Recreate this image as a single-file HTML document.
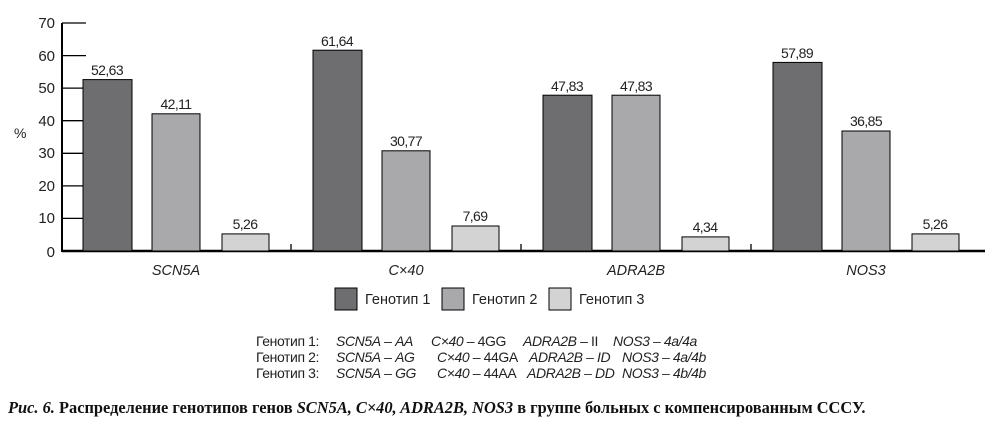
<!DOCTYPE html><html><head><meta charset="utf-8"><style>body{margin:0;background:#fff}svg{display:block}</style></head><body>
<svg width="992" height="438" xmlns="http://www.w3.org/2000/svg" font-family="Liberation Sans, sans-serif" font-size="14">
<g stroke="#000" stroke-width="1.3">
<line x1="62" y1="23" x2="62" y2="252" stroke-width="2"/>
<line x1="62" y1="251" x2="985" y2="251" stroke-width="2.5"/>
<line x1="62" y1="23" x2="86" y2="23"/><line x1="62" y1="55.6" x2="86" y2="55.6"/><line x1="62" y1="88.1" x2="86" y2="88.1"/><line x1="62" y1="120.7" x2="86" y2="120.7"/><line x1="62" y1="153.3" x2="86" y2="153.3"/><line x1="62" y1="185.9" x2="86" y2="185.9"/><line x1="62" y1="218.4" x2="86" y2="218.4"/>
<line x1="291" y1="244" x2="291" y2="251"/><line x1="521" y1="244" x2="521" y2="251"/><line x1="751" y1="244" x2="751" y2="251"/>
</g>
<g text-anchor="end" fill="#222" font-size="15">
<text x="55" y="28">70</text><text x="55" y="61">60</text><text x="55" y="93">50</text><text x="55" y="126">40</text><text x="55" y="158">30</text><text x="55" y="191">20</text><text x="55" y="223">10</text><text x="55" y="257">0</text></g>
<text x="14" y="138" fill="#222">%</text>
<g stroke="#000" stroke-width="1">
<rect x="83" y="79.6" width="49" height="171.4" fill="#6e6e70"/>
<rect x="152" y="113.8" width="48" height="137.2" fill="#a9a9ab"/>
<rect x="222" y="233.9" width="47" height="17.1" fill="#d3d3d3"/>
<rect x="313" y="50.2" width="49" height="200.8" fill="#6e6e70"/>
<rect x="382" y="150.8" width="48" height="100.2" fill="#a9a9ab"/>
<rect x="452" y="226" width="47" height="25" fill="#d3d3d3"/>
<rect x="543" y="95.2" width="49" height="155.8" fill="#6e6e70"/>
<rect x="612" y="95.2" width="48" height="155.8" fill="#a9a9ab"/>
<rect x="682" y="236.9" width="47" height="14.1" fill="#d3d3d3"/>
<rect x="773" y="62.4" width="49" height="188.6" fill="#6e6e70"/>
<rect x="842" y="131" width="48" height="120" fill="#a9a9ab"/>
<rect x="912" y="233.9" width="47" height="17.1" fill="#d3d3d3"/>
</g>
<g text-anchor="middle" fill="#222" font-size="14" letter-spacing="-0.6">
<text x="107" y="75">52,63</text><text x="176" y="109">42,11</text><text x="245" y="229">5,26</text>
<text x="337" y="46">61,64</text><text x="406" y="146">30,77</text><text x="475" y="221">7,69</text>
<text x="567" y="91">47,83</text><text x="636" y="91">47,83</text><text x="705" y="232">4,34</text>
<text x="797" y="58">57,89</text><text x="866" y="126">36,85</text><text x="935" y="229">5,26</text>
</g>
<g text-anchor="middle" font-style="italic" fill="#222" font-size="14.5">
<text x="176" y="275">SCN5A</text><text x="406" y="275">C×40</text><text x="636" y="275">ADRA2B</text><text x="866" y="275">NOS3</text></g>
<g stroke="#000" stroke-width="1">
<rect x="335" y="288" width="22" height="22" fill="#6e6e70"/>
<rect x="442" y="288" width="22" height="22" fill="#a9a9ab"/>
<rect x="549" y="288" width="22" height="22" fill="#d3d3d3"/></g>
<g fill="#222" font-size="14.5"><text x="365" y="304">Генотип 1</text><text x="472" y="304">Генотип 2</text><text x="579" y="304">Генотип 3</text></g>
<g fill="#222" font-size="14" letter-spacing="-0.4">
<text x="256" y="346">Генотип 1:</text><text x="336" y="346"><tspan font-style="italic">SCN5A</tspan> – <tspan font-style="italic">AA</tspan></text><text x="431" y="346"><tspan font-style="italic">C×40</tspan> – 4GG</text><text x="523" y="346"><tspan font-style="italic">ADRA2B</tspan> – II</text><text x="613" y="346"><tspan font-style="italic">NOS3 – 4a/4a</tspan></text>
<text x="256" y="362">Генотип 2:</text><text x="336" y="362"><tspan font-style="italic">SCN5A</tspan> – <tspan font-style="italic">AG</tspan></text><text x="437" y="362"><tspan font-style="italic">C×40</tspan> – 44GA</text><text x="529" y="362"><tspan font-style="italic">ADRA2B – ID</tspan></text><text x="622" y="362"><tspan font-style="italic">NOS3 – 4a/4b</tspan></text>
<text x="256" y="378">Генотип 3:</text><text x="336" y="378"><tspan font-style="italic">SCN5A</tspan> – <tspan font-style="italic">GG</tspan></text><text x="437" y="378"><tspan font-style="italic">C×40</tspan> – 44AA</text><text x="527" y="378"><tspan font-style="italic">ADRA2B – DD</tspan></text><text x="622" y="378"><tspan font-style="italic">NOS3 – 4b/4b</tspan></text>
</g>
<text x="8" y="413" font-family="Liberation Serif, serif" font-weight="bold" font-size="16.4" fill="#111"><tspan font-style="italic">Рис. 6.</tspan> Распределение генотипов генов <tspan font-style="italic">SCN5A, C×40, ADRA2B, NOS3</tspan> в группе больных с компенсированным СССУ.</text>
</svg></body></html>
